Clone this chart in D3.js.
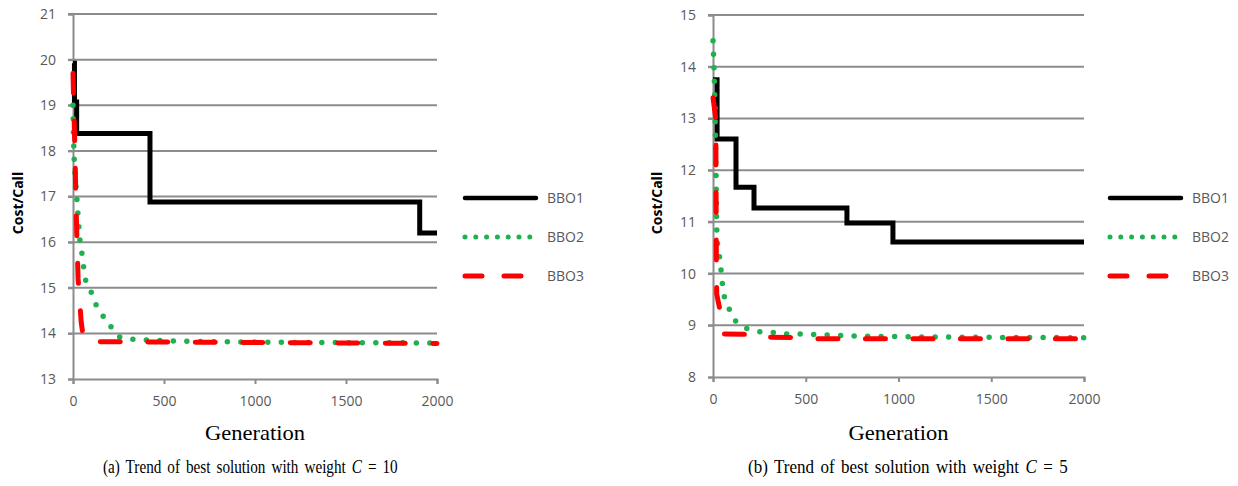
<!DOCTYPE html>
<html>
<head>
<meta charset="utf-8">
<script src="https://cdn.jsdelivr.net/npm/d3@7"></script>
<style>
body { margin: 0; background: #fff; }
.tick text { font-family: "Open Sans", sans-serif; font-size: 14px; fill: #595959; }
.leg { font-family: "Open Sans", sans-serif; font-size: 14px; fill: #595959; }
.ylab { font-family: "Open Sans", sans-serif; font-size: 14px; font-weight: bold; }
.serif { font-family: "Liberation Serif", "Times New Roman", serif; }
</style>
</head>
<body>
<svg id="chart" width="1238" height="486"></svg>
<script>
// panel (a): weight C = 10  -- [generation, cost/call]
var bbo1A = [[0,19.92],[8,19.07],[20,18.38],[423,16.88],[1905,16.2],[2000,16.2]]
var bbo2A = [[0,19.0],[5,18.0],[15,17.3],[24,16.8],[38,16.04],[53,15.65],[66,15.21],[93,15.0],[108,14.8],
  [130,14.6],[158,14.44],[181,14.25],[218,14.11],[247,13.94],[300,13.88],[500,13.84],[700,13.82],[2000,13.79]]
var bbo3A = [[0,19.7],[10,18.1],[15,17.1],[20,16.3],[28,15.2],[45,14.25],[60,13.82],[2000,13.78]]

// panel (b): weight C = 5
var bbo1B = [[0,13.75],[22,12.6],[124,11.67],[221,11.27],[722,10.98],[970,10.61],[2000,10.61]]
var bbo2B = [[0,14.5],[10,13.3],[16,12.0],[20,10.91],[23,10.63],[32,10.4],[41,10.16],[47,9.91],[56,9.68],
  [65,9.47],[88,9.31],[110,9.14],[151,9.0],[203,8.91],[262,8.87],[334,8.86],[397,8.83],[464,8.83],
  [700,8.8],[1000,8.78],[2000,8.76]]
var bbo3B = [[0,13.4],[15,13.0],[16,12.0],[17,11.2],[18,10.3],[20,9.6],[40,9.25],[60,8.83],[250,8.82],
  [260,8.77],[500,8.76],[520,8.74],[2000,8.74]]

var xTicks = [0,500,1000,1500,2000]
var seriesNames = ["BBO1","BBO2","BBO3"]
var captions = ["(a) Trend of best solution with weight ", "(b) Trend of best solution with weight "]
var weights = ["10","5"]

var svg = d3.select("#chart")

var styles = [
  {stroke:"#000", width:5, dash:null, legDash:null, curve:d3.curveStepAfter},
  {stroke:"#1fb050", width:5.5, dash:"0,13.5", legDash:"0,10.8", curve:d3.curveMonotoneX},
  {stroke:"#ff0000", width:5, dash:"20,27.5", legDash:"17,22", curve:d3.curveLinear}
]

var panels = [
  {x0:73, x1:437, y0:379, y1:14, yDom:[13,21], data:[bbo1A,bbo2A,bbo3A], legX:463, legY:198, ylabX:18, cap:250.5, capW:295},
  {x0:713, x1:1084, y0:377, y1:15, yDom:[8,15], data:[bbo1B,bbo2B,bbo3B], legX:1108, legY:198, ylabX:657, cap:908, capW:320}
]

panels.forEach(function(p, pi) {
  var x = d3.scaleLinear().domain([0,2000]).range([p.x0, p.x1])
  var y = d3.scaleLinear().domain(p.yDom).range([p.y0, p.y1])
  var g = svg.append("g")

  // gridlines
  g.selectAll(".grid")
    .data(y.ticks(p.yDom[1]-p.yDom[0]).slice(1))
    .enter().append("line")
    .attr("x1", p.x0-5).attr("x2", p.x1)
    .attr("y1", d=>y(d)).attr("y2", d=>y(d))
    .attr("stroke", "#8c8c8c").attr("stroke-width", 2)

  var yAx = g.append("g").attr("transform", "translate(" + p.x0 + ",0)")
    .call(d3.axisLeft(y).ticks(p.yDom[1]-p.yDom[0]).tickSize(5).tickPadding(12).tickFormat(d3.format("d")))
  var xAx = g.append("g").attr("transform", "translate(0," + p.y0 + ")")
    .call(d3.axisBottom(x).tickValues(xTicks).tickSize(5).tickPadding(12).tickFormat(d3.format("d")))
  ;[yAx, xAx].forEach(function(a) {
    a.select(".domain").attr("stroke", "#8c8c8c").attr("stroke-width", 2)
    a.selectAll(".tick line").attr("stroke", "#8c8c8c").attr("stroke-width", 2)
  })

  // series
  p.data.forEach(function(d, i) {
    var s = styles[i]
    var line = d3.line().x(v=>x(v[0])).y(v=>y(v[1])).curve(s.curve)
    g.append("path")
      .attr("d", line(d))
      .attr("fill", "none")
      .attr("stroke", s.stroke)
      .attr("stroke-width", s.width)
      .attr("stroke-linecap", i==0 ? "butt" : "round")
      .attr("stroke-linejoin", "miter")
      .attr("stroke-dasharray", s.dash)
  })

  // legend
  seriesNames.forEach(function(name, i) {
    var s = styles[i]
    var ly = p.legY + i*39
    g.append("line")
      .attr("x1", p.legX + 2).attr("x2", p.legX + (i==1 ? 70 : 73))
      .attr("y1", ly).attr("y2", ly)
      .attr("stroke", s.stroke).attr("stroke-width", i==0 ? 4.5 : 5)
      .attr("stroke-linecap", "round")
      .attr("stroke-dasharray", s.legDash)
    g.append("text").attr("class", "leg")
      .attr("x", p.legX + 84).attr("y", ly).attr("dy", "0.35em")
      .text(name)
  })

  // axis titles
  g.append("text").attr("class", "ylab")
    .attr("transform", "translate(" + (p.ylabX+5) + "," + 203 + ") rotate(-90)")
    .attr("text-anchor", "middle")
    .text("Cost/Call")
  g.append("text").attr("class", "serif")
    .attr("x", (p.x0+p.x1)/2).attr("y", 440)
    .attr("text-anchor", "middle").style("font-size", "21px")
    .attr("textLength", 100).attr("lengthAdjust", "spacingAndGlyphs")
    .text("Generation")

  // caption: tall narrow serif, squeezed/stretched to the reference width
  var x0 = p.cap - p.capW/2
  var cap = g.append("text").attr("class", "serif")
    .attr("x", 0).attr("y", 0)
    .style("font-size", "19px")
  cap.append("tspan").text(captions[pi])
  cap.append("tspan").style("font-style", "italic").text("C")
  cap.append("tspan").text(" = " + weights[pi])
  var w = cap.node().getComputedTextLength()
  var sx = Math.min(1, (p.capW - 20) / w)
  var spaces = (captions[pi] + "C = " + weights[pi]).split(" ").length - 1
  var extra = (p.capW - w*sx) / sx / spaces
  cap.style("word-spacing", Math.max(0, extra) + "px")
    .attr("transform", "translate(" + x0 + ",473) scale(" + sx + ",1)")
})
</script>
</body>
</html>
